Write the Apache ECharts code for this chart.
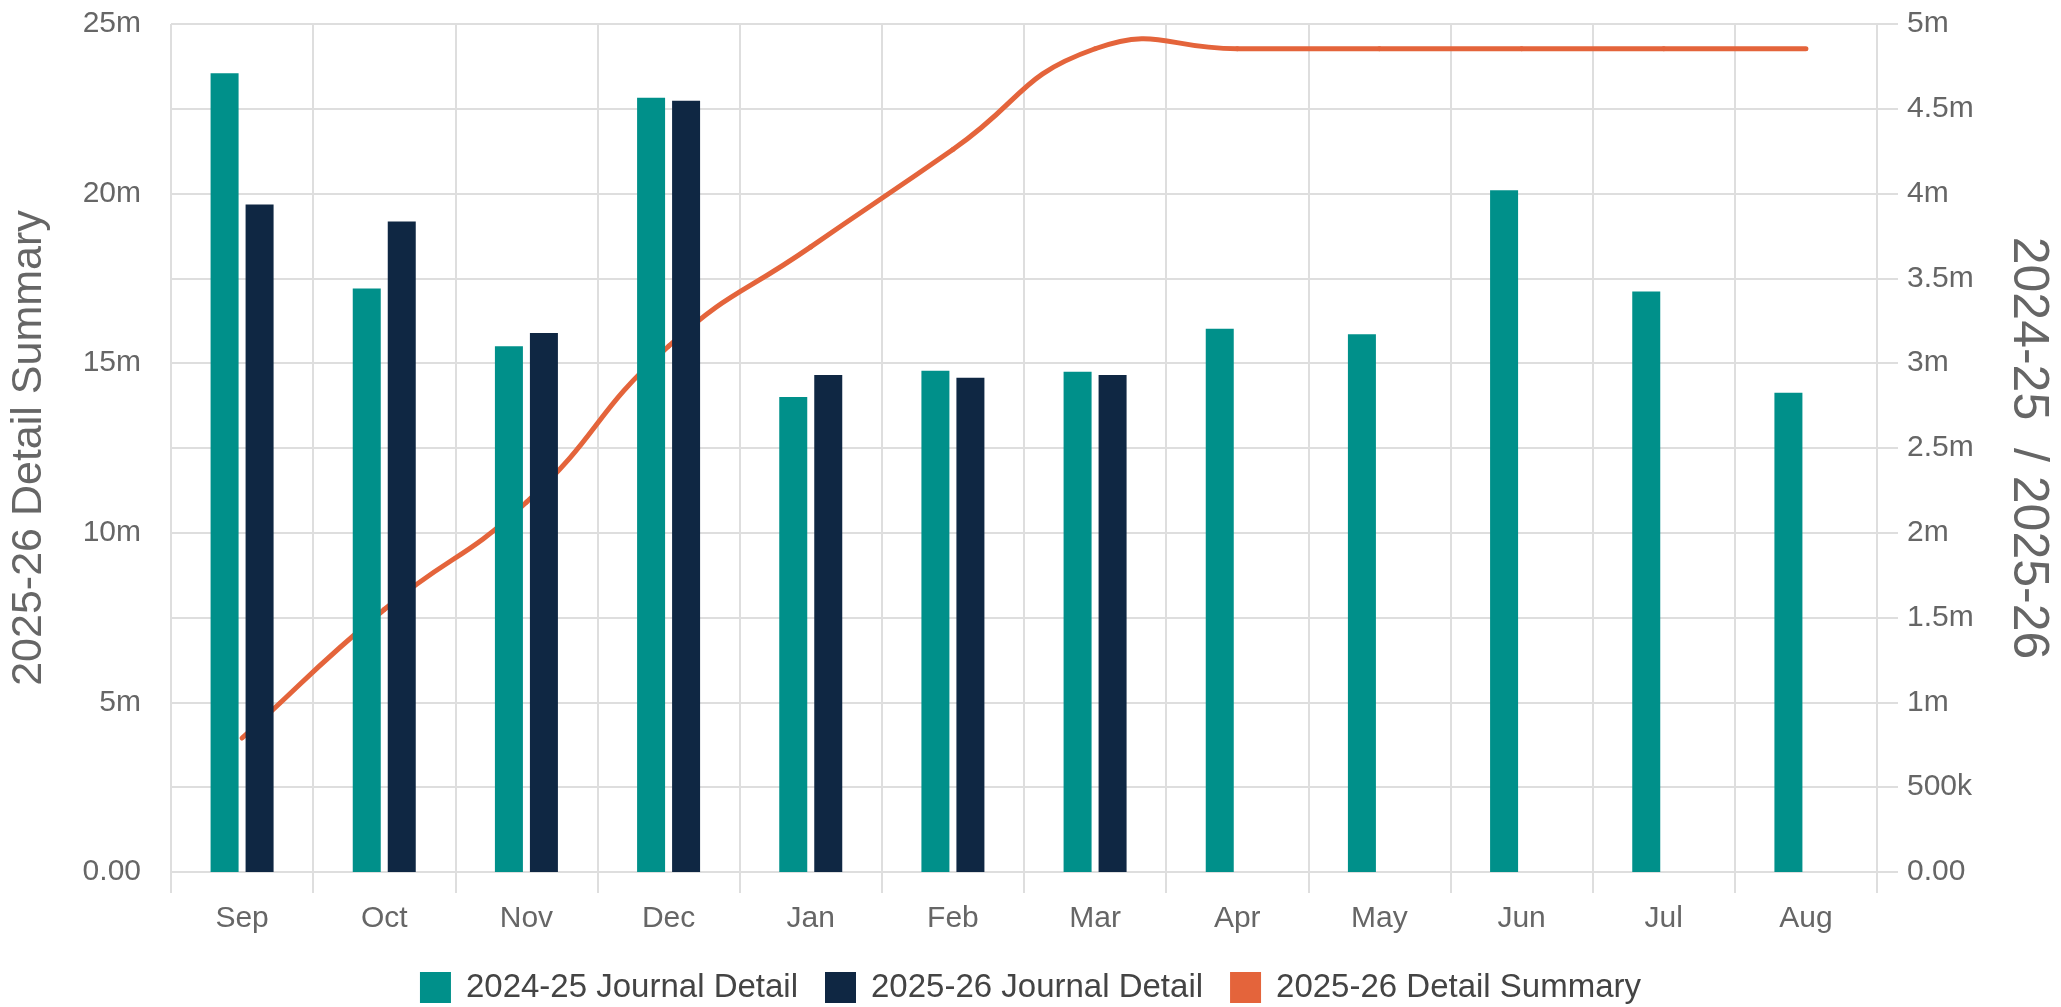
<!DOCTYPE html>
<html>
<head>
<meta charset="utf-8">
<title>Journal Detail</title>
<script src="https://cdn.jsdelivr.net/npm/echarts@6/dist/echarts.min.js"></script>
<style>
  html, body { margin: 0; padding: 0; background: #ffffff; }
  #chart { width: 2061px; height: 1007px; }
</style>
</head>
<body>
<div id="chart"></div>
<script>
// Months of the financial year
const months = ['Sep', 'Oct', 'Nov', 'Dec', 'Jan', 'Feb', 'Mar', 'Apr', 'May', 'Jun', 'Jul', 'Aug'];

// Monthly journal totals (right axis)
const journal2425 = [4710000, 3440000, 3100000, 4565000, 2800000, 2956000, 2950000, 3203000, 3170000, 4020000, 3423000, 2826000];
const journal2526 = [3935000, 3836000, 3178000, 4547000, 2930000, 2914000, 2931000, null, null, null, null, null];

// Running detail summary (left axis)
const summary2526 = [3950000, 7740000, 10900000, 15500000, 18430000, 21300000, 24270000, 24270000, 24270000, 24270000, 24270000, 24270000];

// Axis tick values
const leftTicks = { min: 0, max: 25000000, step: 2500000, labelEvery: 5000000 };
const rightTicks = { min: 0, max: 5000000, step: 500000 };

const FONT = '"Liberation Sans", Arial, Helvetica, sans-serif';
const GRID_COLOR = '#dedede';
const LABEL_COLOR = '#666666';
const TEAL = '#00908A';
const NAVY = '#0F2743';
const ORANGE = '#E4643B';
const TENSION = 0.5;

function fmtShort(v) {
  if (v === 0) return '0.00';
  if (v >= 1e6) return (v / 1e6) + 'm';
  if (v >= 1e3) return (v / 1e3) + 'k';
  return String(v);
}

// Cardinal-spline control points around `cur`, based on its neighbours
function splineControls(prev, cur, next, t) {
  const d01 = Math.hypot(cur[0] - prev[0], cur[1] - prev[1]);
  const d12 = Math.hypot(next[0] - cur[0], next[1] - cur[1]);
  const sum = d01 + d12;
  const s01 = sum ? d01 / sum : 0;
  const s12 = sum ? d12 / sum : 0;
  const dx = next[0] - prev[0];
  const dy = next[1] - prev[1];
  return {
    before: [cur[0] - t * s01 * dx, cur[1] - t * s01 * dy],
    after: [cur[0] + t * s12 * dx, cur[1] + t * s12 * dy]
  };
}

// Each item draws the curved segment from its point to the next one
function renderSummarySegment(params, api) {
  const n = summary2526.length;
  const i = params.dataIndex;
  if (i >= n - 1) return null;
  const pt = k => api.coord([k, summary2526[Math.max(0, Math.min(n - 1, k))]]);
  const p1 = pt(i);
  const p2 = pt(i + 1);
  const p0 = i === 0 ? p1 : pt(i - 1);
  const p3 = i + 2 > n - 1 ? p2 : pt(i + 2);
  const c1 = splineControls(p0, p1, p2, TENSION).after;
  const c2 = splineControls(p1, p2, p3, TENSION).before;
  return {
    type: 'bezierCurve',
    shape: {
      x1: p1[0], y1: p1[1],
      cpx1: c1[0], cpy1: c1[1],
      cpx2: c2[0], cpy2: c2[1],
      x2: p2[0], y2: p2[1]
    },
    style: { stroke: ORANGE, lineWidth: 5, fill: null, lineCap: 'round' }
  };
}

const chart = echarts.init(document.getElementById('chart'), null, { renderer: 'canvas' });

chart.setOption({
  animation: false,
  backgroundColor: '#ffffff',
  textStyle: { fontFamily: FONT },
  grid: { left: 168, right: 184, top: 24, bottom: 135, containLabel: false },
  legend: {
    bottom: -2,
    left: 'center',
    icon: 'rect',
    itemWidth: 31,
    itemHeight: 31,
    itemGap: 27,
    textStyle: { fontFamily: FONT, fontSize: 33, color: '#444444', padding: [0, 0, 0, 10] },
    data: ['2024-25 Journal Detail', '2025-26 Journal Detail', '2025-26 Detail Summary']
  },
  xAxis: {
    type: 'category',
    data: months,
    boundaryGap: true,
    axisLine: { show: true, lineStyle: { color: GRID_COLOR, width: 2 } },
    axisTick: { show: true, length: 21, lineStyle: { color: GRID_COLOR, width: 2 } },
    splitLine: { show: true, lineStyle: { color: GRID_COLOR, width: 2 } },
    axisLabel: { color: LABEL_COLOR, fontSize: 30, fontFamily: FONT, margin: 32 }
  },
  yAxis: [
    {
      type: 'value',
      position: 'left',
      min: leftTicks.min,
      max: leftTicks.max,
      interval: leftTicks.step,
      name: '2025-26 Detail Summary',
      nameLocation: 'middle',
      nameGap: 120,
      nameTextStyle: { fontSize: 43, color: LABEL_COLOR, fontFamily: FONT },
      axisLine: { show: false },
      axisTick: { show: false },
      splitLine: { show: false },
      axisLabel: {
        color: LABEL_COLOR, fontSize: 30, fontFamily: FONT, margin: 30,
        formatter: v => (v % leftTicks.labelEvery === 0 ? fmtShort(v) : '')
      }
    },
    {
      type: 'value',
      position: 'right',
      min: rightTicks.min,
      max: rightTicks.max,
      interval: rightTicks.step,
      name: '2024-25  / 2025-26',
      nameLocation: 'middle',
      nameGap: 126,
      nameRotate: -90,
      nameTextStyle: { fontSize: 50, color: LABEL_COLOR, fontFamily: FONT },
      axisLine: { show: false },
      axisTick: { show: true, length: 21, lineStyle: { color: GRID_COLOR, width: 2 } },
      splitLine: { show: true, lineStyle: { color: GRID_COLOR, width: 2 } },
      axisLabel: { color: LABEL_COLOR, fontSize: 30, fontFamily: FONT, margin: 30, formatter: fmtShort }
    }
  ],
  series: [
    {
      name: '2024-25 Journal Detail',
      type: 'bar',
      yAxisIndex: 1,
      data: journal2425,
      barWidth: 28,
      barGap: '25%',
      z: 3,
      itemStyle: { color: TEAL }
    },
    {
      name: '2025-26 Journal Detail',
      type: 'bar',
      yAxisIndex: 1,
      data: journal2526,
      barWidth: 28,
      barGap: '25%',
      z: 3,
      itemStyle: { color: NAVY }
    },
    {
      name: '2025-26 Detail Summary',
      type: 'custom',
      yAxisIndex: 0,
      data: summary2526.map((v, i) => [i, v]),
      encode: { x: 0, y: 1 },
      renderItem: renderSummarySegment,
      z: 1,
      itemStyle: { color: ORANGE }
    }
  ]
});
</script>
</body>
</html>
